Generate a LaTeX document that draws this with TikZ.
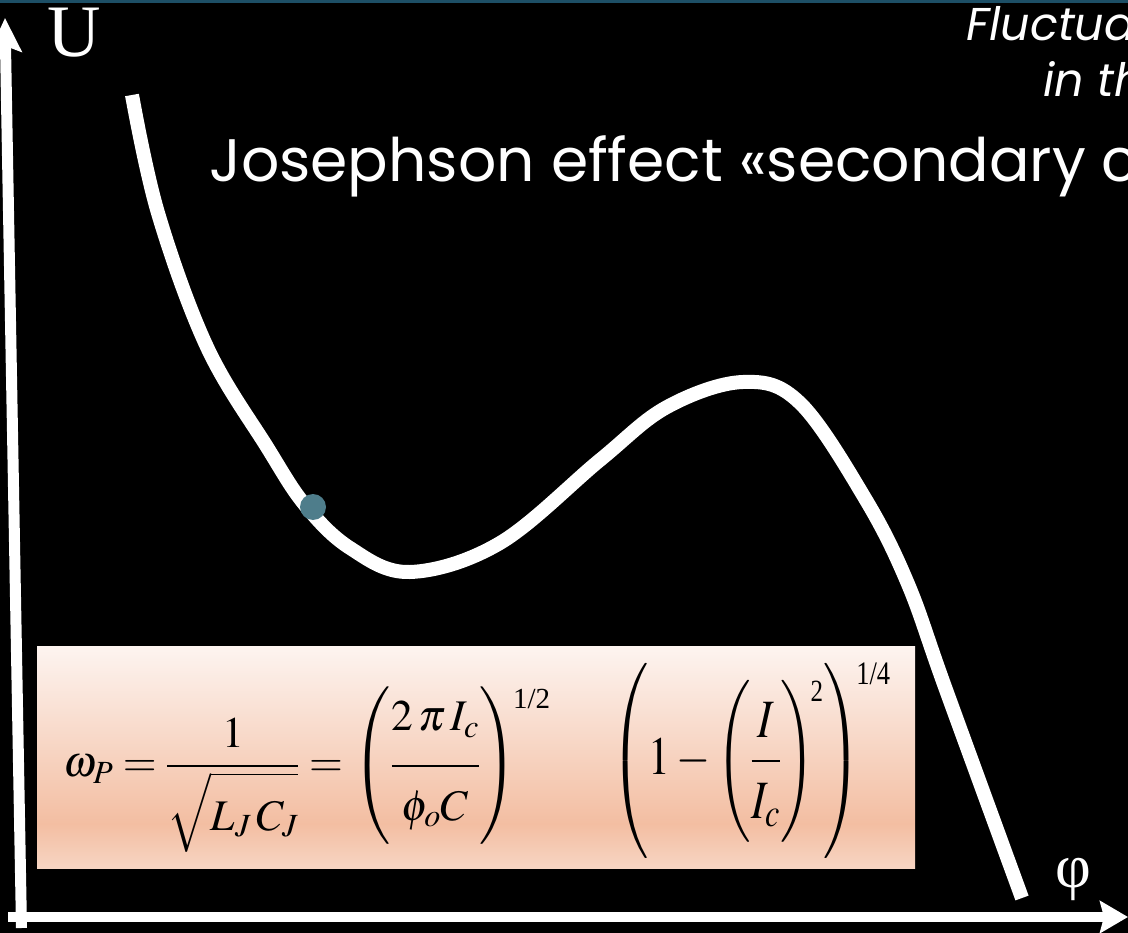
\documentclass[tikz,border=0pt]{standalone}
\usepackage{mathptmx}
\usepackage[no-math]{fontspec}
\usepackage{graphicx}
\newfontfamily\serifU{Liberation Serif}
\newfontfamily\comic{Poppins}
\usetikzlibrary{arrows.meta}
\definecolor{topbar}{HTML}{1D4F66}
\definecolor{dotc}{HTML}{4E7D8B}
\definecolor{pktop}{HTML}{FDF4F0}
\definecolor{pkdeep}{HTML}{F3BEA2}
\definecolor{pkbot}{HTML}{F7D5C3}
\pgfdeclareverticalshading{boxshade}{100bp}{color(0bp)=(pkbot); color(25bp)=(pkbot); color(35bp)=(pkdeep); color(75bp)=(pktop); color(100bp)=(pktop)}
\newcommand\mydn[1]{\rule[-#1]{0pt}{#1}}
\newcommand\myup[1]{\rule{0pt}{#1}}
\newcommand\myvc[1]{\vcenter{\hbox{\rule{0pt}{#1}}}}
\newcommand\myexp[3]{\raisebox{#1}{\serifU\fontsize{#2}{#2}\selectfont #3}}
\tikzset{
  axisline/.style={draw=white, line width=11pt},
  curveline/.style={draw=white, line width=14pt, line cap=butt},
  lbl/.style={text=white, inner sep=0pt, anchor=base west},
  formpart/.style={inner sep=0pt, anchor=north west},
}
\begin{document}
\begin{tikzpicture}[x=1pt,y=-1pt]
\useasboundingbox (0,0) rectangle (1128,933);
\fill[black] (0,0) rectangle (1128,933);
\fill[topbar] (0,0) rectangle (1128,3);
% curve
\draw[curveline] plot[smooth, tension=0.6] coordinates {(132,95) (158,213) (207,347) (267,447) (305,505) (350,548) (410,572) (500,543) (600,460) (667,407) (743,382) (800,403) (866,500) (908,584) (945,687) (1022,898)};
\node[circle, fill=dotc, minimum size=26pt, inner sep=0pt] (dot) at (313,507) {};
% formula box
\node[shading=boxshade, minimum width=878pt, minimum height=222pt, inner sep=0pt, anchor=north west] (box) at (37,646) {};
\node[formpart] (fA) at (63,687) {\resizebox*{487pt}{165pt}{\fontsize{48}{52}\selectfont$\displaystyle \omega_P=\frac{1}{\sqrt{\rule[-14pt]{0pt}{62pt}L_J\,C_J}}=\left(\myvc{150pt}\frac{2\,\pi\, I_c\mydn{32pt}}{\myup{53pt}\phi_o C}\right)\mkern-4mu\myexp{75pt}{32}{1/2}$}};
\node[formpart] (fB) at (610,663) {\resizebox*{280pt}{195pt}{\fontsize{56}{60}\selectfont$\displaystyle \left(\myvc{196pt}1-\left(\myvc{164pt}\frac{I}{\myup{52pt}I_c}\right)\mkern-4mu\myexp{76pt}{32}{2}\right)\mkern-4mu\myexp{93pt}{34}{1/4}$}};
% axes
\coordinate (yb) at (21.5,928);
\coordinate (yt) at (5,18);
\coordinate (xl) at (8,917);
\coordinate (xr) at (1128,917);
\draw[axisline, -{Stealth[length=34pt, width=32pt, inset=6pt]}] (yb) -- (yt);
\draw[axisline, line width=10pt, -{Stealth[length=28pt, width=32pt, inset=4pt]}] (xl) -- (xr);
% labels
\node[lbl] (U) at (47,57) {\serifU\fontsize{74}{74}\selectfont U};
\node[lbl] (phi) at (1055,887) {\serifU\fontsize{62}{62}\selectfont φ};
\node[lbl] (title) at (209,182) {\comic\fontsize{60}{60}\selectfont Josephson effect «secondary c};
\node[lbl] (fl) at (966,41) {\comic\itshape\fontsize{46}{46}\selectfont Fluctua};
\node[lbl] (inth) at (1043,97) {\comic\itshape\fontsize{46}{46}\selectfont in th};
\end{tikzpicture}
\end{document}
